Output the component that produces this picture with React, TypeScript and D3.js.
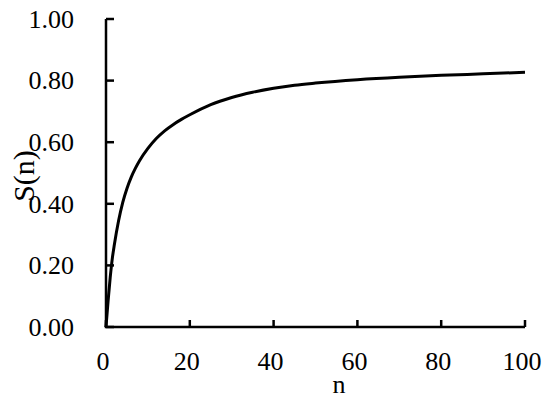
import React from "react";
import * as d3 from "d3";

const nValues = [0, 0.5, 1, 1.5, 2, 3, 4, 5, 6, 7, 8, 10, 12, 14, 16, 18, 20, 25, 30, 35, 40, 45, 50, 60, 70, 80, 90, 100];
const sValues = [0, 0.085, 0.16, 0.222, 0.268, 0.345, 0.405, 0.45, 0.486, 0.515, 0.54, 0.58, 0.612, 0.637, 0.657, 0.674, 0.689, 0.722, 0.745, 0.762, 0.775, 0.785, 0.792, 0.803, 0.811, 0.817, 0.822, 0.827];
const xTicks = [0, 20, 40, 60, 80, 100];
const yTicks = [0, 0.2, 0.4, 0.6, 0.8, 1.0];
const xTitle = "n";
const yTitle = "S(n)";

export default function App() {
  const W = 550, H = 411;
  const x = d3.scaleLinear().domain([0, 100]).range([106, 525]);
  const y = d3.scaleLinear().domain([0, 1]).range([327, 19]);
  const data = nValues.map((n, i) => [n, sValues[i]] as [number, number]);
  const line = d3.line<[number, number]>()
    .x(d => x(d[0]))
    .y(d => y(d[1]))
    .curve(d3.curveMonotoneX);
  const font = "'Liberation Serif', 'Times New Roman', serif";
  const x0 = x(0), y0 = y(0);
  return (
    <svg width={W} height={H} style={{ position: "absolute", left: 0, top: 0, background: "#fff" }}>
      <rect x={0} y={0} width={W} height={H} fill="#fff" />
      <line x1={x0} y1={y(1)} x2={x0} y2={y0} stroke="#000" strokeWidth={2.5} />
      <line x1={x0 - 1.25} y1={y0} x2={x(100)} y2={y0} stroke="#000" strokeWidth={2.5} />
      {yTicks.map(t => (
        <g key={"y" + t}>
          <line x1={x0} x2={x0 + 8} y1={y(t)} y2={y(t)} stroke="#000" strokeWidth={2.5} />
          <text x={74} y={y(t)} dy="0.34em" textAnchor="end" fontFamily={font} fontSize={26} fill="#000">
            {d3.format(".2f")(t)}
          </text>
        </g>
      ))}
      {xTicks.map(t => (
        <g key={"x" + t}>
          <line x1={x(t)} x2={x(t)} y1={y0} y2={y0 - 7} stroke="#000" strokeWidth={2.5} />
          <text x={x(t) - 3} y={370} textAnchor="middle" fontFamily={font} fontSize={26} fill="#000">
            {t}
          </text>
        </g>
      ))}
      <path d={line(data) || ""} fill="none" stroke="#000" strokeWidth={3} strokeLinejoin="round" />
      <text x={339} y={393} textAnchor="middle" fontFamily={font} fontSize={26} fill="#000">{xTitle}</text>
      <text transform="translate(34,176) rotate(-90)" textAnchor="middle" fontFamily={font} fontSize={30} fill="#000">{yTitle}</text>
    </svg>
  );
}
